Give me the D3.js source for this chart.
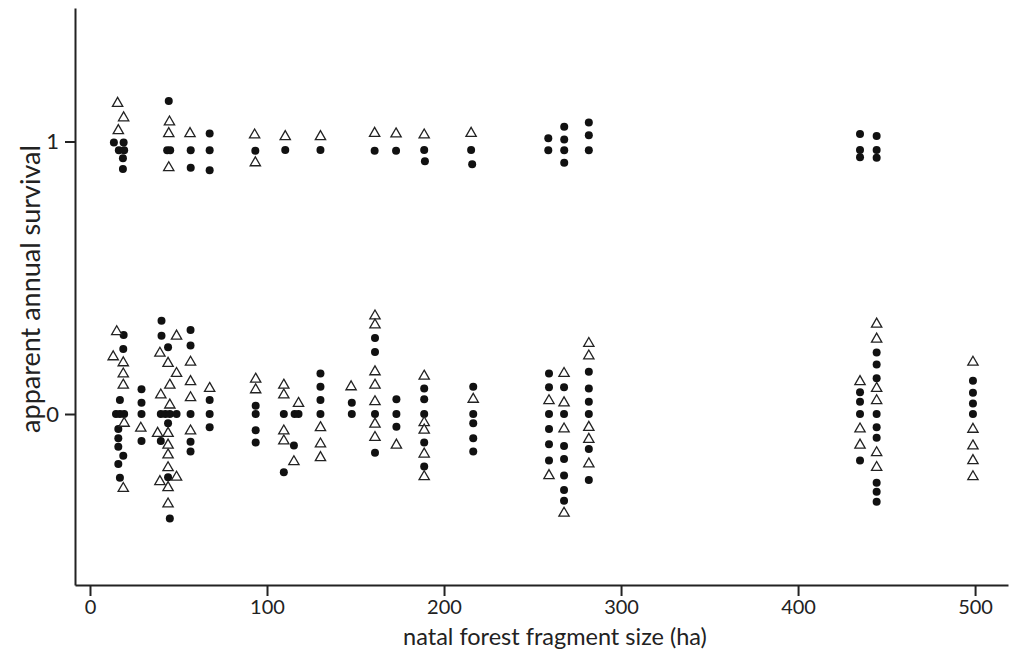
<!DOCTYPE html>
<html>
<head>
<meta charset="utf-8">
<script src="https://cdn.jsdelivr.net/npm/d3@7"></script>
<style>
  html, body { margin: 0; padding: 0; background: #fff; }
  svg { display: block; font-family: Lato, "Open Sans", sans-serif; }
</style>
</head>
<body>
<div id="chart"></div>
<script>
// [fragment size (ha, jittered), apparent survival (jittered)]
const circles = [
  // survived (near 1)
  [13.5, 0.996], [19.0, 0.996], [16.3, 0.968], [19.3, 0.968], [18.6, 0.939], [18.6, 0.899],
  [44.5, 1.149], [43.6, 0.968], [45.3, 0.968], [56.9, 0.968], [56.9, 0.904],
  [67.6, 1.029], [67.6, 0.968], [67.6, 0.895],
  [93.4, 0.966], [110.3, 0.969], [130.2, 0.969], [160.8, 0.966], [172.9, 0.966],
  [188.8, 0.969], [189.2, 0.928], [215.3, 0.969], [215.9, 0.917],
  [258.9, 1.012], [258.9, 0.968], [267.9, 1.054], [267.9, 1.007], [267.9, 0.968], [267.9, 0.922],
  [281.8, 1.070], [281.8, 1.023], [281.8, 0.968],
  [435.0, 1.028], [435.0, 0.969], [435.0, 0.942],
  [444.4, 1.020], [444.4, 0.969], [444.4, 0.940],
  // not seen again (near 0)
  [19.0, 0.290], [18.8, 0.239], [16.9, 0.051], [14.7, 0], [16.9, 0], [19.3, 0],
  [16.0, -0.055], [16.0, -0.089], [16.0, -0.120], [18.8, -0.153], [16.0, -0.183], [16.9, -0.234],
  [29.1, 0.091], [29.1, 0.041], [29.1, 0], [29.1, -0.099],
  [40.4, 0.342], [40.4, 0.287], [44.1, 0.245], [40.0, 0], [42.6, 0], [45.1, 0], [48.9, 0],
  [44.1, -0.034], [40.0, -0.099], [44.1, -0.232], [45.1, -0.383],
  [56.8, 0.308], [56.8, 0.251], [56.8, 0], [56.8, -0.102], [56.8, -0.138],
  [67.6, 0.051], [67.6, 0], [67.6, -0.049],
  [93.6, 0.030], [93.6, 0], [93.6, -0.060], [93.6, -0.105],
  [109.5, 0], [109.5, -0.214], [115.6, 0], [117.8, 0], [115.2, -0.116],
  [130.2, 0.149], [130.2, 0.100], [130.2, 0.051], [130.2, 0],
  [147.9, 0.041], [147.9, 0],
  [161.0, 0.279], [161.0, 0.228], [161.0, 0], [161.0, -0.142],
  [173.1, 0.054], [173.1, 0], [173.1, -0.047],
  [188.8, 0.094], [188.8, 0.054], [188.8, 0], [188.8, -0.105], [188.8, -0.193],
  [216.5, 0.100], [216.5, 0], [216.5, -0.034], [216.5, -0.089], [216.5, -0.138],
  [259.3, 0.149], [259.3, 0.098], [259.3, 0], [259.3, -0.055], [259.3, -0.111], [259.3, -0.171],
  [267.8, 0.098], [267.8, 0], [267.8, -0.117], [267.8, -0.165], [267.8, -0.226], [267.8, -0.279], [267.8, -0.318],
  [281.8, 0.155], [281.8, 0.094], [281.8, 0.045], [281.8, 0], [281.8, -0.128], [281.8, -0.242],
  [435.0, 0.080], [435.0, 0.045], [435.0, 0], [435.0, -0.171],
  [444.4, 0.226], [444.4, 0.182], [444.4, 0.131], [444.4, 0], [444.4, -0.049], [444.4, -0.087],
  [444.4, -0.252], [444.4, -0.285], [444.4, -0.322],
  [498.8, 0.122], [498.8, 0.078], [498.8, 0.039], [498.8, 0]
];

const triangles = [
  // survived (near 1)
  [15.6, 1.140], [19.0, 1.087], [16.0, 1.040],
  [44.9, 1.072], [44.5, 1.029], [56.5, 1.029], [44.5, 0.904],
  [93.0, 1.024], [93.4, 0.922], [110.3, 1.018], [130.2, 1.018],
  [160.8, 1.030], [172.9, 1.028], [188.8, 1.024], [215.3, 1.030],
  // not seen again (near 0)
  [15.1, 0.302], [13.1, 0.210], [18.8, 0.188], [18.8, 0.147], [18.8, 0.106],
  [19.3, -0.034], [18.8, -0.273], [28.7, -0.052],
  [39.5, 0.223], [44.1, 0.186], [48.9, 0.286], [48.9, 0.149], [45.1, 0.106], [40.0, 0.070],
  [45.1, 0.033], [38.2, -0.071], [44.1, -0.071], [44.1, -0.114], [44.1, -0.150], [44.1, -0.197],
  [39.5, -0.248], [48.9, -0.232], [44.1, -0.270], [44.1, -0.330],
  [56.8, 0.190], [56.8, 0.119], [56.8, 0.060], [56.8, -0.062],
  [67.6, 0.094], [93.6, 0.128], [93.6, 0.089],
  [109.5, 0.106], [109.5, 0.070], [109.5, -0.062], [109.5, -0.099],
  [117.8, 0.039], [115.2, -0.175],
  [130.2, -0.050], [130.2, -0.110], [130.2, -0.160], [147.5, 0.100],
  [161.0, 0.360], [161.0, 0.327], [161.0, 0.155], [161.0, 0.106], [161.0, 0.045], [161.0, -0.037], [161.0, -0.086],
  [173.1, -0.114],
  [188.8, 0.139], [188.8, -0.032], [188.8, -0.059], [188.8, -0.147], [188.8, -0.230],
  [216.5, 0.054],
  [259.3, 0.049], [259.3, -0.226],
  [267.8, 0.149], [267.8, 0.041], [267.8, -0.055], [267.8, -0.364],
  [281.8, 0.259], [281.8, 0.213], [281.8, -0.049], [281.8, -0.093], [281.8, -0.183],
  [435.0, 0.119], [435.0, -0.055], [435.0, -0.114],
  [444.4, 0.330], [444.4, 0.275], [444.4, 0.094], [444.4, 0.049], [444.4, -0.142], [444.4, -0.196],
  [498.8, 0.190], [498.8, -0.056], [498.8, -0.117], [498.8, -0.171], [498.8, -0.230]
];

const xTicks = [0, 100, 200, 300, 400, 500];
const yTicks = [0, 1];
const xTitle = 'natal forest fragment size (ha)';
const yTitle = 'apparent annual survival';

const width = 1010, height = 659;
const axisColor = '#222';
const fontStack = 'Lato, "Open Sans", sans-serif';

const svg = d3.select('#chart').append('svg')
  .attr('width', width)
  .attr('height', height);

// axes frame: left at 75px, bottom at 585px
const x = d3.scaleLinear()
  .domain([-8.47, 518.6])
  .range([75, 1008]);

const y = d3.scaleLinear()
  .domain([-0.6275, 1.49])
  .range([585, 8]);

const xAxis = svg.append('g')
  .attr('transform', `translate(0,${y.range()[0]})`)
  .call(d3.axisBottom(x).tickValues(xTicks).tickSizeOuter(0).tickSizeInner(11).tickPadding(4));

xAxis.select('.domain').attr('stroke', axisColor).attr('stroke-width', 2);
xAxis.selectAll('.tick line').attr('stroke', axisColor).attr('stroke-width', 2);
xAxis.selectAll('.tick text')
  .attr('fill', '#222')
  .style('font-size', '20px')
  .style('font-family', fontStack);

const yAxis = svg.append('g')
  .attr('transform', `translate(${x.range()[0]},0)`)
  .call(d3.axisLeft(y).tickValues(yTicks).tickFormat(d3.format('d'))
    .tickSizeOuter(0).tickSizeInner(10).tickPadding(6));

yAxis.select('.domain').attr('stroke', axisColor).attr('stroke-width', 2);
yAxis.selectAll('.tick line').attr('stroke', axisColor).attr('stroke-width', 2);
yAxis.selectAll('.tick text')
  .attr('fill', '#222')
  .style('font-size', '22px')
  .style('font-family', fontStack);

// axis titles
svg.append('text')
  .attr('x', 555)
  .attr('y', 645)
  .attr('text-anchor', 'middle')
  .attr('fill', '#222')
  .style('font-size', '23.5px')
  .text(xTitle);

svg.append('text')
  .attr('transform', `translate(40,289) rotate(-90)`)
  .attr('text-anchor', 'middle')
  .attr('fill', '#222')
  .style('font-size', '27px')
  .text(yTitle);

// points
const plot = svg.append('g');

plot.selectAll('circle.pt')
  .data(circles)
  .enter().append('circle')
  .attr('class', 'pt')
  .attr('cx', d => x(d[0]))
  .attr('cy', d => y(d[1]))
  .attr('r', 4)
  .attr('fill', '#111');

const tri = d3.symbol().type(d3.symbolTriangle).size(46);

plot.selectAll('path.tri')
  .data(triangles)
  .enter().append('path')
  .attr('class', 'tri')
  .attr('d', tri)
  .attr('transform', d => `translate(${x(d[0])},${y(d[1])})`)
  .attr('fill', '#fff')
  .attr('stroke', '#222')
  .attr('stroke-width', 1.3);
</script>
</body>
</html>
